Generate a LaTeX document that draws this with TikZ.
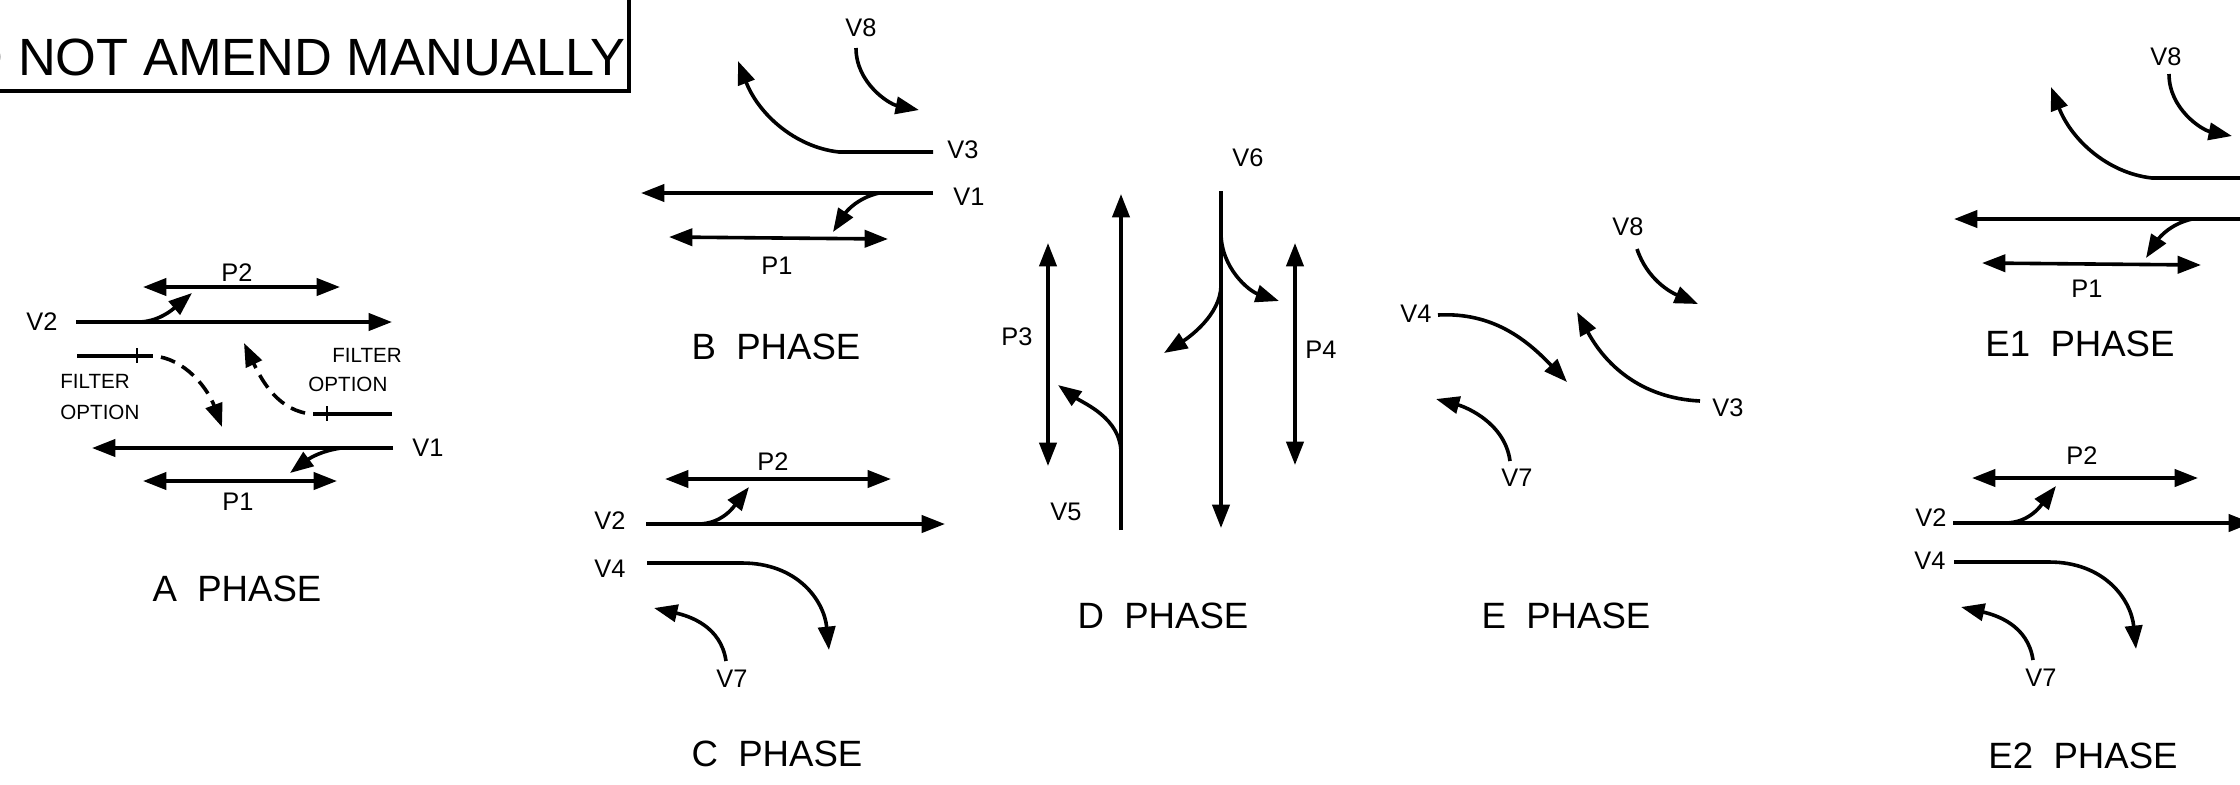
\documentclass[tikz,border=0pt]{standalone}
\usepackage{fontspec}
\setmainfont{Liberation Sans}
\usetikzlibrary{arrows.meta}

\begin{document}
\begin{tikzpicture}[x=.5pt, y=-.5pt,
		>={Triangle[length=11.7pt,width=8.6pt]},   %arrow tips
		flow/.style={->, line width=1.8pt},
		stem/.style={line width=1.8pt},
		both/.style={<->, line width=1.8pt},
		dashflow/.style={->, line width=1.8pt, dash pattern=on 7.5pt off 4pt, dash phase=7.5pt},
		tick/.style={line width=.8pt},
		lab/.style={inner sep=0pt, font=\fontsize{12.7}{14}\selectfont},
		filter/.style={inner sep=0pt, anchor=west, font=\fontsize{10.3}{12}\selectfont},
		phase/.style={inner sep=0pt, font=\fontsize{18.3}{20}\selectfont}]
		\useasboundingbox (0,0) rectangle (2240,784);
		\clip (0,0) rectangle (2240,784); %picture area
		% note box
		\node[inner sep=0pt, anchor=base east, font=\fontsize{26.2}{28}\selectfont] (note) at (626,75) {DO NOT AMEND MANUALLY};
		\coordinate (boxa) at (0,91);
		\coordinate (boxb) at (629,91);
		\coordinate (boxc) at (629,0);
		\draw[line width=1.6pt] (boxa) -- (boxb) -- (boxc);
		% phase titles
		\foreach \p/\x/\y in {A/237/589, B/776/347, C/777/754, D/1163/616, E/1566/616, E1/2080/344, E2/2083/756}
			\node[phase] (title\p) at (\x,\y) {\p\ \ PHASE};
		% stream and pedestrian labels
		\foreach \n/\t/\x/\y in {av2/V2/42/322, ap2/P2/237/273, av1/V1/428/448, ap1/P1/238/502,
				bv8/V8/861/28, bv3/V3/963/150, bv1/V1/969/197, bp1/P1/777/266,
				cp2/P2/773/462, cv2/V2/610/521, cv4/V4/610/569, cv7/V7/732/679,
				dp3/P3/1017/337, dv5/V5/1066/512, dv6/V6/1248/158, dp4/P4/1321/350,
				ev8/V8/1628/227, ev4/V4/1416/314, ev3/V3/1728/408, ev7/V7/1517/478,
				fv8/V8/2166/57, fp1/P1/2087/289,
				gp2/P2/2082/456, gv2/V2/1931/518, gv4/V4/1930/561, gv7/V7/2041/678}
			\node[lab] (\n) at (\x,\y) {\t};
		% filter labels
		\node[filter] (filta) at (60,381) {FILTER};
		\node[filter] (filtb) at (60,412) {OPTION};
		\node[filter] (filtc) at (332,355) {FILTER};
		\node[filter] (filtd) at (308,384) {OPTION};
		% A phase
		\foreach \n/\x/\y in {a1/143/287, a2/340/287, a3/76/322, a4/392/322, a5/138/322, a6/192/293,
				a7/77/356, a8/153/356, a9/222/427, a10/392/414, a11/313/414, a12/244/343,
				a13/393/448, a14/92/448, a15/341/448, a16/290/473, a17/143/481, a18/337/481,
				a19/137/348, a20/137/363, a21/327/406, a22/327/421}
			\coordinate (\n) at (\x,\y);
		\draw[both] (a1) -- (a2);
		\draw[flow] (a3) -- (a4);
		\draw[flow] (a5) .. controls +(20,0) and +(-20,17) .. (a6);
		\draw[stem] (a7) -- (a8);
		\draw[dashflow] (a8) .. controls +(32,2) and +(-14,-38) .. (a9);
		\draw[stem] (a10) -- (a11);
		\draw[dashflow] (a11) .. controls +(-34,-2) and +(18,38) .. (a12);
		\draw[tick] (a19) -- (a20);
		\draw[tick] (a21) -- (a22);
		\draw[flow] (a13) -- (a14);
		\draw[flow] (a15) .. controls +(-20,3) and +(20,-15) .. (a16);
		\draw[both] (a17) -- (a18);
		% B and E1 phase
		\foreach \n/\dx/\dy in {b/0/0, f/1313/26}{
			\coordinate (\n1) at (856+\dx,48+\dy);
			\coordinate (\n2) at (919+\dx,110+\dy);
			\coordinate (\n3) at (933+\dx,152+\dy);
			\coordinate (\n4) at (839+\dx,152+\dy);
			\coordinate (\n5) at (738+\dx,61+\dy);
			\coordinate (\n6) at (933+\dx,193+\dy);
			\coordinate (\n7) at (641+\dx,193+\dy);
			\coordinate (\n8) at (879+\dx,193+\dy);
			\coordinate (\n9) at (833+\dx,232+\dy);
			\coordinate (\n10) at (669+\dx,237+\dy);
			\coordinate (\n11) at (888+\dx,239+\dy);
			\draw[flow] (\n1) .. controls +(0,35) and +(-30,-6) .. (\n2);
			\draw[flow] (\n3) -- (\n4) .. controls +(-45,-5) and +(20,52) .. (\n5);
			\draw[flow] (\n6) -- (\n7);
			\draw[flow] (\n8) .. controls +(-22,5) and +(13,-20) .. (\n9);
			\draw[both] (\n10) -- (\n11);
		}
		% C and E2 phase
		\foreach \n/\dx/\dy in {c/0/0, g/1307/-1}{
			\coordinate (\n1) at (665+\dx,479+\dy);
			\coordinate (\n2) at (891+\dx,479+\dy);
			\coordinate (\n3) at (646+\dx,524+\dy);
			\coordinate (\n4) at (945+\dx,524+\dy);
			\coordinate (\n5) at (698+\dx,524+\dy);
			\coordinate (\n6) at (749+\dx,487+\dy);
			\coordinate (\n7) at (647+\dx,563+\dy);
			\coordinate (\n8) at (742+\dx,563+\dy);
			\coordinate (\n9) at (829+\dx,650+\dy);
			\coordinate (\n10) at (726+\dx,661+\dy);
			\coordinate (\n11) at (654+\dx,608+\dy);
			\draw[both] (\n1) -- (\n2);
			\draw[flow] (\n3) -- (\n4);
			\draw[flow] (\n5) .. controls +(25,0) and +(-14,18) .. (\n6);
			\draw[flow] (\n7) -- (\n8) .. controls +(55,0) and +(-5,-50) .. (\n9);
			\draw[flow] (\n10) .. controls +(-5,-35) and +(35,8) .. (\n11);
		}
		% D phase
		\foreach \n/\x/\y in {d1/1048/243, d2/1048/466, d3/1121/530, d4/1121/194, d5/1121/453, d6/1058/385,
				d7/1221/191, d8/1221/528, d9/1221/233, d10/1279/301, d11/1221/285, d12/1164/353,
				d13/1295/243, d14/1295/465}
			\coordinate (\n) at (\x,\y);
		\draw[both] (d1) -- (d2);
		\draw[flow] (d3) -- (d4);
		\draw[flow] (d5) .. controls +(0,-35) and +(25,18) .. (d6);
		\draw[flow] (d7) -- (d8);
		\draw[flow] (d9) .. controls +(0,35) and +(-30,-10) .. (d10);
		\draw[flow] (d11) .. controls +(0,30) and +(24,-15) .. (d12);
		\draw[both] (d13) -- (d14);
		% E phase
		\foreach \n/\x/\y in {e1/1637/249, e2/1698/304, e3/1438/315, e4/1567/382,
				e5/1700/401, e6/1577/312, e7/1510/461, e8/1436/399}
			\coordinate (\n) at (\x,\y);
		\draw[flow] (e1) .. controls +(10,30) and +(-28,-12) .. (e2);
		\draw[flow] (e3) .. controls +(55,-3) and +(-40,-42) .. (e4);
		\draw[flow] (e5) .. controls +(-60,-3) and +(28,52) .. (e6);
		\draw[flow] (e7) .. controls +(-5,-38) and +(30,8) .. (e8);
	\end{tikzpicture}
\end{document}
